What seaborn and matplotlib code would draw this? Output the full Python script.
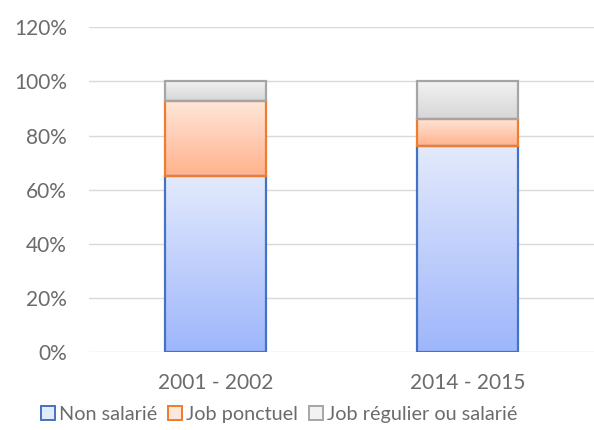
import numpy as np
import pandas as pd
import matplotlib
matplotlib.use('Agg')
import matplotlib.pyplot as plt
import seaborn as sns
from matplotlib.colors import LinearSegmentedColormap
from matplotlib.patches import Patch
from matplotlib.ticker import FuncFormatter

# Données (en %)
periodes = ['2001 - 2002', '2014 - 2015']
non_salarie = [65.0, 76.0]
job_ponctuel = [27.7, 10.3]
job_regulier = [7.3, 13.7]

series = ['Non salarié', 'Job ponctuel', 'Job régulier ou salarié']
valeurs = [non_salarie, job_ponctuel, job_regulier]

# couleurs style Excel : (haut clair, bas foncé, bordure)
couleurs = {
    'Non salarié': ('#e3eafd', '#9eb6fb', '#4472c4'),
    'Job ponctuel': ('#ffe6da', '#ffb28c', '#ed7d31'),
    'Job régulier ou salarié': ('#f2f2f2', '#d6d6d6', '#a5a5a5'),
}
gris_texte = '#6b6b6b'

sns.set_style('white')
plt.rcParams['font.family'] = ['Lato', 'DejaVu Sans']
plt.rcParams['font.size'] = 15

fig = plt.figure(figsize=(5.94, 4.30), dpi=100)
ax = fig.add_axes([0.15, 0.1814, 0.85, 0.755])

# cumul pour l'empilement
cumul = np.cumsum(np.array(valeurs), axis=0)
bas = np.vstack([np.zeros(len(periodes)), cumul[:-1]])

segments = []
for i, nom in enumerate(series):
    df = pd.DataFrame({'periode': periodes, 'valeur': cumul[i]})
    nb_avant = len(ax.patches)
    sns.barplot(data=df, x='periode', y='valeur', ax=ax, width=0.4,
                color='white', errorbar=None)
    haut, fonce, bord = couleurs[nom]
    for j, p in enumerate(ax.patches[nb_avant:]):
        p.set_y(bas[i][j])
        p.set_height(valeurs[i][j])
        p.set_facecolor('none')
        p.set_edgecolor(bord)
        p.set_linewidth(1.6)
        p.set_zorder(3 + i * 0.1)
        segments.append((p, haut, fonce))

# dégradés dans chaque segment
for p, haut, fonce in segments:
    cmap = LinearSegmentedColormap.from_list('g', [fonce, haut])
    grad = np.linspace(0, 1, 100).reshape(-1, 1)
    x0, y0 = p.get_x(), p.get_y()
    im = ax.imshow(grad, extent=[x0, x0 + p.get_width(), y0, y0 + p.get_height()],
                   origin='lower', aspect='auto', cmap=cmap, zorder=2.5)
    im.set_clip_path(p)

ax.set_xlim(-0.5, 1.5)
ax.set_ylim(0, 120)
ax.set_yticks(range(0, 121, 20))
ax.yaxis.set_major_formatter(FuncFormatter(lambda v, _: f'{v:.0f}%'))
ax.grid(axis='y', color='#d9d9d9', linewidth=1)
ax.set_axisbelow(True)
for s in ax.spines.values():
    s.set_visible(False)
ax.tick_params(axis='both', length=0, colors=gris_texte, labelsize=15)
ax.tick_params(axis='y', pad=16)
ax.tick_params(axis='x', pad=15)
ax.set_xlabel('')
ax.set_ylabel('')

handles = [Patch(facecolor=couleurs[n][0], edgecolor=couleurs[n][2], linewidth=1.4,
                 label=n) for n in series]
leg = fig.legend(handles=handles, loc='lower center', bbox_to_anchor=(0.47, -0.025),
                 ncol=3, frameon=False, handlelength=0.7, handleheight=0.7,
                 handletextpad=0.2, columnspacing=0.55, fontsize=14.3)
for t in leg.get_texts():
    t.set_color(gris_texte)

fig.savefig('out.png', dpi=100)
